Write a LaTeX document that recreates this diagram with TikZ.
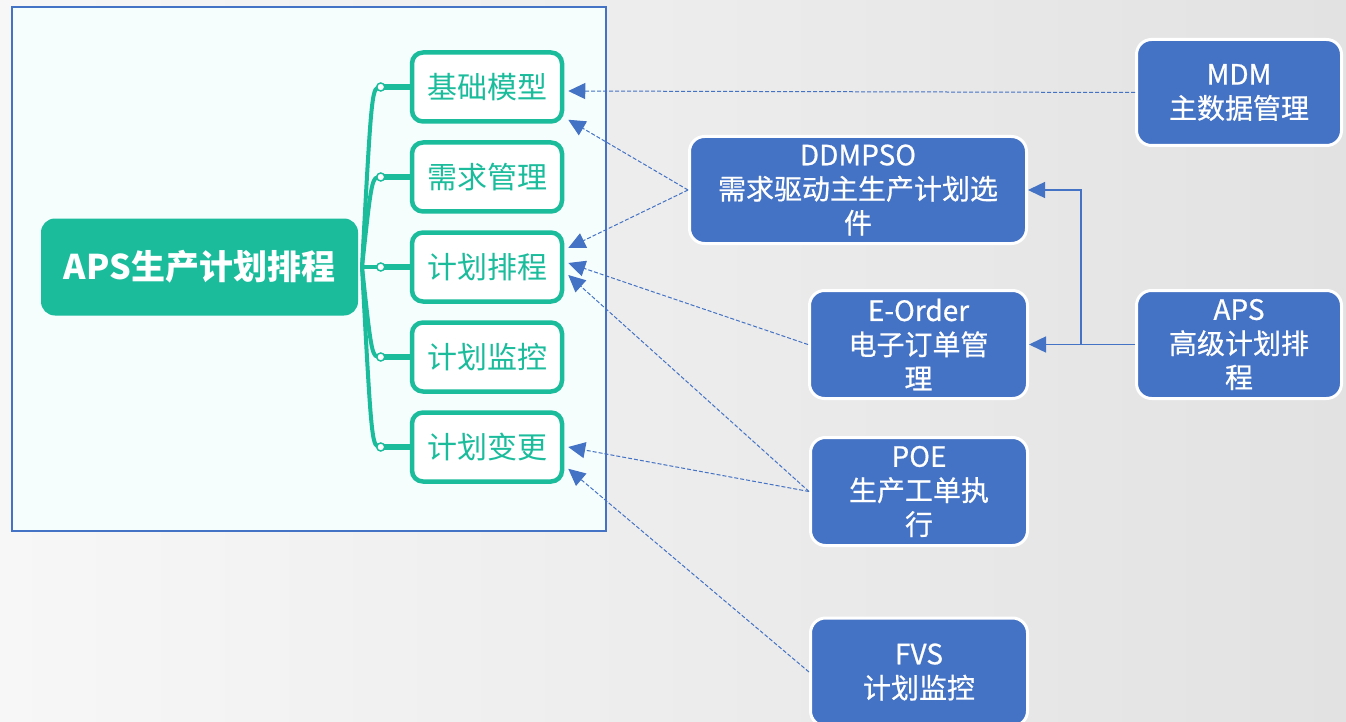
\documentclass[tikz,border=0pt]{standalone}
\usepackage{fontspec}
\setmainfont{Noto Sans CJK SC}
\newfontfamily\sysfont{Noto Sans CJK SC}[FakeBold=0.6]
\usetikzlibrary{positioning,arrows.meta}
\definecolor{mmteal}{RGB}{26,188,156}
\definecolor{sysblue}{RGB}{68,114,196}
\definecolor{panelbg}{RGB}{245,253,253}
\definecolor{bgleft}{RGB}{247,247,247}
\definecolor{bgright}{RGB}{226,226,226}

\tikzset{
  root/.style={fill=mmteal, rounded corners=14pt, text=white, inner sep=0pt,
    minimum width=317pt, minimum height=97pt, font=\fontsize{34}{40}\selectfont\bfseries},
  topic/.style={draw=mmteal, line width=4.5pt, fill=white, rounded corners=11pt, text=mmteal,
    inner sep=0pt, minimum width=150pt, minimum height=69pt, font=\fontsize{30}{36}\selectfont},
  sys/.style={draw=white, line width=3pt, fill=sysblue, rounded corners=15pt, text=white,
    align=center, inner sep=0pt, font=\sysfont\fontsize{28}{34}\selectfont},
  knob/.style={circle, draw=mmteal, fill=white, line width=1.5pt, inner sep=0pt, minimum size=8pt},
  branch/.style={mmteal, line width=6pt},
  spine/.style={mmteal, line width=4pt},
  feed/.style={sysblue, line width=1pt, dash pattern=on 4pt off 2pt, -{Triangle[length=17pt,width=16pt]}},
  link/.style={sysblue, line width=1.5pt, -{Triangle[length=17pt,width=16pt]}}
}

\begin{document}
\begin{tikzpicture}[x=1pt, y=-1pt, node distance={16.5pt}]
    \clip (0,0) rectangle (1346,722);
    \shade[left color=bgleft, right color=bgright] (0,0) rectangle (1346,722);
    \draw[sysblue, line width=2pt, fill=panelbg] (12,7) rectangle (606,531);

    \node[topic] (jichu) at (487,87) {基础模型};
    \node[topic] (xuqiu) [below=of jichu] {需求管理};
    \node[topic] (paicheng) [below=of xuqiu] {计划排程};
    \node[topic] (jiankong) [below=of paicheng] {计划监控};
    \node[topic] (biangeng) [below=of jiankong] {计划变更};

    \coordinate (hub) at (362,267);
    \foreach \t in {jichu,xuqiu,paicheng,jiankong,biangeng} {
      \coordinate[left=29pt of \t] (k-\t);
      \draw[spine] (hub) .. controls ([xshift=-9pt]k-\t) and ([xshift=-9pt]k-\t) .. (k-\t);
      \draw[branch] (k-\t) -- (\t.west);
    }
    \node[root] (root) at (199.5,267) {APS生产计划排程};
    \foreach \t in {jichu,xuqiu,paicheng,jiankong,biangeng}
      \node[knob] (d-\t) at (k-\t) {};

    \node[sys, minimum width=205pt, minimum height=106pt] (mdm) at (1239,92.5) {MDM\\主数据管理};
    \node[sys, minimum width=337pt, minimum height=107pt] (ddmpso) at (858,190) {DDMPSO\\需求驱动主生产计划选\\件};
    \node[sys, minimum width=218pt, minimum height=108pt] (eorder) at (918.5,344.5) {E-Order\\电子订单管\\理};
    \node[sys, minimum width=205pt, minimum height=108pt] (apsys) at (1239,344.5) {APS\\高级计划排\\程};
    \node[sys, minimum width=217pt, minimum height=108pt] (poe) at (919,491.5) {POE\\生产工单执\\行};
    \node[sys, minimum width=217pt, minimum height=108pt] (fvs) at (919,672) {FVS\\计划监控};

    \draw[feed] (mdm.west) -- ([xshift=4pt,yshift=-4pt]jichu.east);
    \draw[feed] (ddmpso.west) -- ([xshift=4pt,yshift=4pt]jichu.south east);
    \draw[feed] (ddmpso.west) -- ([xshift=4pt,yshift=19pt]paicheng.east);
    \draw[feed] (eorder.west) -- ([xshift=4pt,yshift=4pt]paicheng.east);
    \draw[feed] (poe.west) -- ([xshift=4pt,yshift=-8pt]paicheng.east);
    \draw[feed] (poe.west) -- ([xshift=4pt]biangeng.east);
    \draw[feed] (fvs.west) -- ([xshift=4pt,yshift=15pt]biangeng.south east);

    \coordinate (fork) at (1081,344.5);
    \draw[link] (apsys.west) -- (eorder.east);
    \draw[link] (fork) |- (ddmpso.east);
\end{tikzpicture}
\end{document}
